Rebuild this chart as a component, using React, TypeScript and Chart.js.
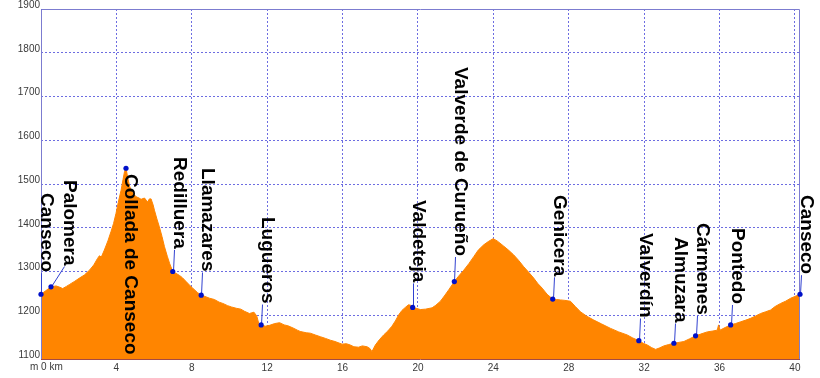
import { useEffect, useRef } from 'react';
import { Chart, registerables } from 'chart.js';

Chart.register(...registerables);

// ---- Data -------------------------------------------------------------
const DIST_KM = [
  0.0, 0.25, 0.53, 0.8, 1.0, 1.15, 1.35, 1.5, 1.8, 2.04, 2.3, 2.57, 2.8, 3.0, 3.1, 3.2, 3.36, 3.55, 3.72, 3.85,
  3.98, 4.1, 4.25, 4.35, 4.43, 4.51, 4.6, 4.7, 4.78, 4.9, 5.04, 5.2, 5.31, 5.49, 5.58, 5.66, 5.75, 5.84, 5.95, 6.02,
  6.15, 6.28, 6.42, 6.55, 6.7, 6.82, 6.99, 7.15, 7.35, 7.5, 7.7, 7.9, 8.05, 8.3, 8.5, 8.7, 8.94, 9.2, 9.45, 9.65,
  9.9, 10.1, 10.36, 10.6, 10.8, 11.06, 11.3, 11.45, 11.55, 11.68, 11.9, 12.13, 12.4, 12.66, 12.9, 13.1, 13.37, 13.6, 13.75, 14.07,
  14.29, 14.55, 14.82, 15.1, 15.35, 15.6, 15.97, 16.2, 16.41, 16.6, 16.85, 17.05, 17.3, 17.45, 17.56, 17.74, 17.95, 18.18, 18.4, 18.62,
  18.8, 18.98, 19.15, 19.33, 19.5, 19.6, 19.72, 19.9, 20.13, 20.4, 20.75, 20.95, 21.19, 21.4, 21.63, 21.93, 22.15, 22.43, 22.7, 22.96,
  23.2, 23.49, 23.75, 23.99, 24.2, 24.55, 24.8, 25.08, 25.35, 25.61, 25.9, 26.14, 26.35, 26.59, 26.85, 27.15, 27.35, 27.56, 27.8, 28.09,
  28.35, 28.62, 28.95, 29.33, 29.75, 30.22, 30.65, 31.1, 31.4, 31.72, 31.95, 32.17, 32.4, 32.61, 32.8, 33.05, 33.3, 33.58, 33.85, 34.11,
  34.4, 34.73, 35.0, 35.35, 35.65, 35.88, 35.95, 36.03, 36.3, 36.59, 36.85, 37.12, 37.4, 37.65, 37.9, 38.18, 38.45, 38.71, 38.95, 39.24,
  39.5, 39.78, 40.0, 40.27,
];
const ELEV_M = [
  1248, 1256, 1265, 1267, 1264, 1261, 1266, 1270, 1278, 1285, 1292, 1303, 1315, 1330, 1336, 1333, 1349, 1370, 1392, 1410,
  1433, 1458, 1486, 1510, 1528, 1536, 1515, 1495, 1486, 1478, 1471, 1468, 1465, 1468, 1463, 1459, 1466, 1466, 1452, 1440,
  1420, 1402, 1380, 1357, 1335, 1319, 1300, 1296, 1291, 1286, 1277, 1268, 1262, 1252, 1246, 1243, 1239, 1236, 1230, 1227,
  1222, 1219, 1216, 1214, 1209, 1204, 1207, 1198, 1182, 1178, 1175, 1177, 1181, 1183, 1178, 1176, 1171, 1166, 1163, 1160,
  1159, 1155, 1151, 1147, 1143, 1140, 1134, 1135, 1132, 1128, 1127, 1130, 1128, 1124, 1117, 1132, 1144, 1155, 1164, 1175,
  1187, 1201, 1211, 1218, 1224, 1223, 1218, 1216, 1213, 1214, 1217, 1223, 1232, 1244, 1258, 1277, 1289, 1303, 1318, 1334,
  1349, 1361, 1369, 1375, 1370, 1358, 1349, 1338, 1325, 1311, 1297, 1285, 1273, 1262, 1248, 1237, 1236, 1235, 1234, 1232,
  1220, 1208, 1198, 1189, 1180, 1170, 1162, 1155, 1148, 1142, 1136, 1132, 1126, 1122, 1125, 1130, 1133, 1136, 1138, 1140,
  1146, 1153, 1157, 1162, 1164, 1166, 1178, 1166, 1172, 1178, 1181, 1185, 1189, 1193, 1198, 1204, 1208, 1212, 1220, 1227,
  1232, 1239, 1243, 1248,
];

const WAYPOINT_NAMES = [
  'Canseco', 'Palomera', 'Collada de Canseco', 'Redilluera', 'Llamazares', 'Lugueros', 'Valdeteja',
  'Valverde de Curueño', 'Genicera', 'Valverdín', 'Almuzara', 'Cármenes', 'Pontedo', 'Canseco',
];
const WAYPOINT_KM = [0.0, 0.53, 4.51, 6.99, 8.5, 11.68, 19.72, 21.93, 27.15, 31.72, 33.58, 34.73, 36.59, 40.27];
const WAYPOINT_ELEV = [1248, 1265, 1536, 1300, 1246, 1178, 1218, 1277, 1237, 1142, 1136, 1153, 1178, 1248];

const X_MIN = 0;
const X_MAX = 40.27;
const X_STEP = 4;
const Y_MIN = 1100;
const Y_MAX = 1900;
const Y_STEP = 100;
const X_ZERO_LABEL = 'm 0 km';

// ---- Layout / style (not data) ---------------------------------------
const LABEL_TOP_PX = [193, 180, 174, 157, 168, 217, 200, 67, 195, 233, 237, 223, 228, 195];
const LABEL_DX_PX = [0, 13, -1, 1, 1, 1, 0, 1, 1, 1, 1, 1, 1, 1];

const FILL = '#ff8500';
const GRID = 'rgba(60,60,215,0.75)';
const FRAME = '#7c7cd0';
const BASE = '#a44a44';
const DOT = '#0010c8';
const LEADER = '#3040d0';
const TICK_COLOR = '#3a3a3a';
const TICK_FONT = { family: '"Liberation Sans", Arial, sans-serif', size: 10 };
const LABEL_FONT = 'bold 19px "Liberation Sans", Arial, sans-serif';

const overlayPlugin = {
  id: 'overlay',
  afterDraw(chart: any) {
    const { ctx, chartArea: a, scales } = chart;
    const xs = scales.x;
    const ys = scales.y;
    ctx.save();
    // frame
    ctx.lineWidth = 1;
    ctx.strokeStyle = FRAME;
    ctx.beginPath();
    ctx.moveTo(Math.round(a.left) + 0.5, a.bottom);
    ctx.lineTo(Math.round(a.left) + 0.5, Math.round(a.top) + 0.5);
    ctx.lineTo(Math.round(a.right) - 0.5, Math.round(a.top) + 0.5);
    ctx.lineTo(Math.round(a.right) - 0.5, a.bottom);
    ctx.stroke();
    ctx.strokeStyle = BASE;
    ctx.beginPath();
    ctx.moveTo(a.left, Math.round(a.bottom) + 0.5);
    ctx.lineTo(a.right, Math.round(a.bottom) + 0.5);
    ctx.stroke();

    // zero label of the x axis
    ctx.fillStyle = TICK_COLOR;
    ctx.font = `${TICK_FONT.size}px ${TICK_FONT.family}`;
    ctx.textAlign = 'left';
    ctx.textBaseline = 'top';
    ctx.fillText(X_ZERO_LABEL, xs.getPixelForValue(0) - 11, a.bottom + 3);

    // waypoints
    ctx.font = LABEL_FONT;
    for (let i = 0; i < WAYPOINT_NAMES.length; i++) {
      const px = xs.getPixelForValue(WAYPOINT_KM[i]);
      const py = ys.getPixelForValue(WAYPOINT_ELEV[i]);
      const lx = px + LABEL_DX_PX[i];
      const ty = LABEL_TOP_PX[i];
      const w = ctx.measureText(WAYPOINT_NAMES[i]).width;
      const end = ty + w + 1;
      if (end < py - 2) {
        ctx.strokeStyle = LEADER;
        ctx.lineWidth = 1;
        ctx.beginPath();
        ctx.moveTo(Math.round(lx) + 0.5, end);
        ctx.lineTo(Math.round(px) + 0.5, py);
        ctx.stroke();
      }
      ctx.fillStyle = '#000000';
      ctx.save();
      ctx.translate(lx, ty);
      ctx.rotate(Math.PI / 2);
      ctx.textAlign = 'left';
      ctx.textBaseline = 'alphabetic';
      ctx.fillText(WAYPOINT_NAMES[i], 0, 0);
      ctx.restore();
    }
    for (let i = 0; i < WAYPOINT_NAMES.length; i++) {
      const px = xs.getPixelForValue(WAYPOINT_KM[i]);
      const py = ys.getPixelForValue(WAYPOINT_ELEV[i]);
      ctx.fillStyle = DOT;
      ctx.beginPath();
      ctx.arc(px, py, 2.6, 0, Math.PI * 2);
      ctx.fill();
    }
    ctx.restore();
  },
};

export default function App() {
  const ref = useRef<HTMLCanvasElement | null>(null);
  useEffect(() => {
    document.body.style.margin = '0';
    const canvas = ref.current;
    if (!canvas) return;
    const chart = new Chart(canvas, {
      type: 'line',
      data: {
        datasets: [
          {
            data: DIST_KM.map((x, i) => ({ x, y: ELEV_M[i] })),
            borderColor: FILL,
            backgroundColor: FILL,
            borderWidth: 1,
            pointRadius: 0,
            fill: 'start',
            tension: 0,
          },
        ],
      },
      options: {
        responsive: false,
        animation: false,
        devicePixelRatio: 1,
        events: [],
        layout: { padding: { top: 9, right: 20, left: 0, bottom: 0 } },
        plugins: { legend: { display: false }, tooltip: { enabled: false }, title: { display: false } },
        scales: {
          x: {
            type: 'linear',
            min: X_MIN,
            max: X_MAX,
            z: 1,
            afterFit: (s: any) => { s.height = 19; },
            ticks: {
              stepSize: X_STEP,
              includeBounds: false,
              padding: 3,
              maxRotation: 0,
              autoSkip: false,
              color: TICK_COLOR,
              font: TICK_FONT,
              callback: (v: any) => (Number(v) === 0 ? '' : String(v)),
            },
            grid: { color: GRID, lineWidth: 1, drawTicks: false },
            border: { display: false, dash: [2, 2] },
          },
          y: {
            type: 'linear',
            min: Y_MIN,
            max: Y_MAX,
            z: 1,
            afterFit: (s: any) => { s.width = 41; },
            ticks: {
              stepSize: Y_STEP,
              padding: 1,
              labelOffset: -4,
              color: TICK_COLOR,
              font: TICK_FONT,
              callback: (v: any) => String(v),
            },
            grid: { color: GRID, lineWidth: 1, drawTicks: false },
            border: { display: false, dash: [2, 2] },
          },
        },
      },
      plugins: [overlayPlugin],
    } as any);
    return () => chart.destroy();
  }, []);
  return (
    <div style={{ position: 'absolute', left: 0, top: 0, width: 820, height: 378, background: '#ffffff' }}>
      <canvas ref={ref} width={820} height={378} style={{ width: 820, height: 378, display: 'block' }} />
    </div>
  );
}
